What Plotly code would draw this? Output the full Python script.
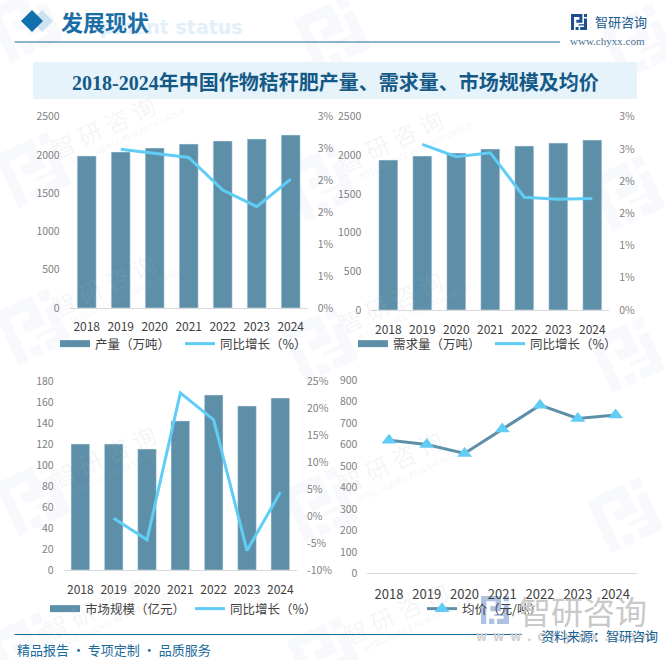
import math
import plotly.graph_objects as go

# ---------- data ----------
years = ["2018", "2019", "2020", "2021", "2022", "2023", "2024"]
output_vals = [1987, 2039, 2091, 2143, 2183, 2209, 2261]
output_growth = [None, 2.49, 2.43, 2.36, 1.85, 1.59, 2.02]
demand_vals = [1940, 1991, 2030, 2082, 2121, 2159, 2198]
demand_growth = [None, 2.57, 2.38, 2.44, 1.75, 1.72, 1.73]
market_vals = [120, 120, 115.2, 142, 166.7, 156.2, 163.8]
market_growth = [None, -0.4, -4.4, 22.8, 17.8, -6.4, 4.4]
price_vals = [620, 600, 558, 672, 783, 721, 737]
pct_ticks = [0, 0.5, 1, 1.5, 2, 2.5, 3]
pct_labels = ["0%", "1%", "1%", "2%", "2%", "3%", "3%"]
market_ticks = [-10, -5, 0, 5, 10, 15, 20, 25]
market_labels = ["-10%", "-5%", "0%", "5%", "10%", "15%", "20%", "25%"]

BAR = "#5d90a8"
LINE = "#5fcdf6"
W, H = 666, 660
SANS = "Noto Sans CJK SC"
SERIF = "Liberation Serif, Noto Sans CJK SC"


def fx(x):
    return x / W


def fy(y):
    return 1 - y / H


fig = go.Figure()
shapes, notes = [], []


def logo(cx, cy, size, angle, color):
    """Brand mark drawn as closed polygons around (cx, cy) in page pixels."""
    polys = [
        [(0, 0), (30, 0), (30, 23), (14, 23), (14, 15), (22, 15), (22, 8), (8, 8), (8, 42), (0, 42)],
        [(12, 34), (20, 34), (20, 42), (12, 42)],
        [(34, 0), (42, 0), (42, 8), (34, 8)],
        [(34, 12), (42, 12), (42, 42), (24, 42), (24, 34), (34, 34), (34, 30), (20, 30), (20, 27), (34, 27)],
    ]
    a = math.radians(angle)
    k = size / 42
    for p in polys:
        pts = []
        for x, y in p:
            u, v = (x - 21) * k, (y - 21) * k
            pts.append((cx + u * math.cos(a) - v * math.sin(a), cy + u * math.sin(a) + v * math.cos(a)))
        path = "M" + " L".join(f"{fx(x):.5f},{fy(y):.5f}" for x, y in pts) + " Z"
        shapes.append(dict(type="path", xref="paper", yref="paper", path=path,
                           fillcolor=color, line_width=0, layer="below"))


def note(x, y, text, size, color, anchor="left", font=SANS, angle=0, bold=False):
    notes.append(dict(xref="paper", yref="paper", x=fx(x), y=fy(y), text=f"<b>{text}</b>" if bold else text,
                      showarrow=False, xanchor=anchor, yanchor="middle", textangle=angle,
                      font=dict(size=size, color=color, family=font)))


# ---------- watermarks ----------
marks = [(25, 25), (332, 34), (638, 42), (33, 170), (320, 183), (627, 193), (33, 327), (320, 345), (627, 355),
         (33, 498), (320, 505), (625, 515), (25, 650), (325, 655)]
for mx, my in marks:
    logo(mx, my, 58, -25, "rgba(190,208,228,0.12)")
    if mx + 120 < W and my - 50 > 0:
        note(mx + 70, my - 43, "智 研 咨 询", 24, "rgba(170,180,195,0.13)", "center", angle=-25)
        note(mx + 95, my - 33, "INTELLIGENCE RESEARCH GROUP", 8, "rgba(170,180,195,0.16)", "center", angle=-25)

# ---------- header ----------
note(245, 27, "pment status", 19, "#e3f0f9", "right", "DejaVu Sans", bold=True)
for dx, dy, c in [(42, 21, "#cfe2f0"), (32, 21, "#1270ad")]:
    shapes.append(dict(type="path", xref="paper", yref="paper", fillcolor=c, line_width=0, layer="below",
                       path=f"M{fx(dx-11)},{fy(dy)} L{fx(dx)},{fy(dy-11)} L{fx(dx+11)},{fy(dy)} L{fx(dx)},{fy(dy+11)} Z"))
note(59, 21, "发展现状", 22, "#1b6ea5", bold=True)
shapes.append(dict(type="line", xref="paper", yref="paper", x0=fx(14.5), x1=fx(560), y0=fy(42), y1=fy(42),
                   line=dict(color="#16699c", width=1)))
logo(579, 22, 16, 0, "#1d4f8f")
note(593, 21, "智研咨询", 13, "#1a5b8e")
note(568, 41, "www.chyxx.com", 11, "#4d7391", font="Liberation Serif")
shapes.append(dict(type="rect", xref="paper", yref="paper", x0=fx(33), x1=fx(637), y0=fy(62), y1=fy(99),
                   fillcolor="#e6f3fb", line_width=0, layer="below"))
note(335, 83, "2018-2024年中国作物秸秆肥产量、需求量、市场规模及均价", 20, "#155a86", "center", SERIF, bold=True)

# ---------- footer ----------
logo(495, 610, 28, 0, "rgba(140,170,215,0.7)")
note(583, 610, "智研咨询", 32, "#c9c9c9", "center")
note(565, 635, "&nbsp;&nbsp;".join("www.chyxx.com"), 13, "#cfcfcf", "center", bold=True)
shapes.append(dict(type="line", xref="paper", yref="paper", x0=fx(14.5), x1=fx(522), y0=fy(634.5), y1=fy(634.5),
                   line=dict(color="#16699c", width=1)))
note(15, 649, "精品报告 · 专项定制 · 品质服务", 13, "#1a6a9a")
note(539, 635, "资料来源：智研咨询", 13, "#1a5f92")

# ---------- panels ----------
layout = {}


def axes(n, box, ymax, ydtick, xsize, ysize, stand):
    x0, x1, ytop, ybot = box
    sfx = "" if n == 1 else str(n)
    layout["xaxis" + sfx] = dict(domain=[fx(x0), fx(x1)], anchor="y" + sfx, type="category", categoryorder="array",
                                 categoryarray=years, showgrid=False, showline=True, linecolor="#d9d9d9",
                                 linewidth=1, ticks="", ticklabelstandoff=stand,
                                 tickfont=dict(size=xsize, color="#404040", family=SANS))
    layout["yaxis" + sfx] = dict(domain=[fy(ybot), fy(ytop)], anchor="x" + sfx, range=[0, ymax], dtick=ydtick,
                                 showgrid=False, zeroline=False, ticks="", ticklabelstandoff=9,
                                 tickfont=dict(size=ysize, color="#7f7f7f", family=SANS))


def right_axis(num, x_id, over, rng, vals, labels):
    layout[f"yaxis{num}"] = dict(overlaying=over, anchor=x_id, side="right", range=rng, tickmode="array",
                                 tickvals=vals, ticktext=labels, showgrid=False, zeroline=False, ticks="",
                                 ticklabelstandoff=9, tickfont=dict(size=10.5, color="#7f7f7f", family=SANS))


def legend_box(name, x, y, width):
    layout[name] = dict(orientation="h", x=fx(x), y=fy(y),
                        xanchor="left", yanchor="middle",
                        bgcolor="rgba(0,0,0,0)", entrywidthmode="pixels", entrywidth=width, tracegroupgap=0,
                        font=dict(size=12.5, color="#404040", family=SANS))


def bar_line(n, right_id, vals, growth, bar_name, legend):
    sfx = "" if n == 1 else str(n)
    fig.add_trace(go.Bar(x=years, y=vals, name=bar_name, xaxis="x" + sfx, yaxis="y" + sfx, marker_color=BAR,
                         width=0.56, showlegend=False))
    # legend entry drawn as a wide swatch, as in the reference
    fig.add_trace(go.Scatter(x=[None], y=[None], name=bar_name, mode="lines", xaxis="x" + sfx, yaxis="y" + sfx,
                             line=dict(color=BAR, width=7), legend=legend))
    fig.add_trace(go.Scatter(x=years, y=growth, name="同比增长（%）", mode="lines", xaxis="x" + sfx,
                             yaxis=f"y{right_id}", line=dict(color=LINE, width=3), legend=legend))


axes(1, (69.7, 307.7, 116.7, 308), 2500, 500, 12, 10.5, 8)
axes(2, (371.3, 609.3, 116.7, 310), 2500, 500, 12, 10.5, 9)
axes(3, (63.7, 297, 381, 570), 180, 20, 12, 10.5, 9)
axes(4, (367.4, 637.2, 380, 573.3), 900, 100, 13, 10.5, 9)
right_axis(5, "x", "y", [0, 3], pct_ticks, pct_labels)
right_axis(6, "x2", "y2", [0, 3], pct_ticks, pct_labels)
right_axis(7, "x3", "y3", [-10, 25], market_ticks, market_labels)

legend_box("legend", 55, 344, 80)
legend_box("legend2", 353, 344, 92)
legend_box("legend3", 45, 609, 100)
legend_box("legend4", 422, 609, 92)

bar_line(1, 5, output_vals, output_growth, "产量（万吨）", "legend")
bar_line(2, 6, demand_vals, demand_growth, "需求量（万吨）", "legend2")
bar_line(3, 7, market_vals, market_growth, "市场规模（亿元）", "legend3")
fig.add_trace(go.Scatter(x=years, y=price_vals, name="均价（元/吨）", mode="lines+markers", xaxis="x4", yaxis="y4",
                         line=dict(color=BAR, width=3),
                         marker=dict(symbol="triangle-up", size=13, color=LINE), legend="legend4"))

fig.update_layout(width=W, height=H, margin=dict(l=0, r=0, t=0, b=0, autoexpand=False), paper_bgcolor="white",
                  plot_bgcolor="rgba(0,0,0,0)",
                  showlegend=True, shapes=shapes, annotations=notes, **layout)
fig.write_html("out.html", config={"displayModeBar": False},
               post_script="document.body.style.margin='0';document.body.style.overflow='hidden';")
